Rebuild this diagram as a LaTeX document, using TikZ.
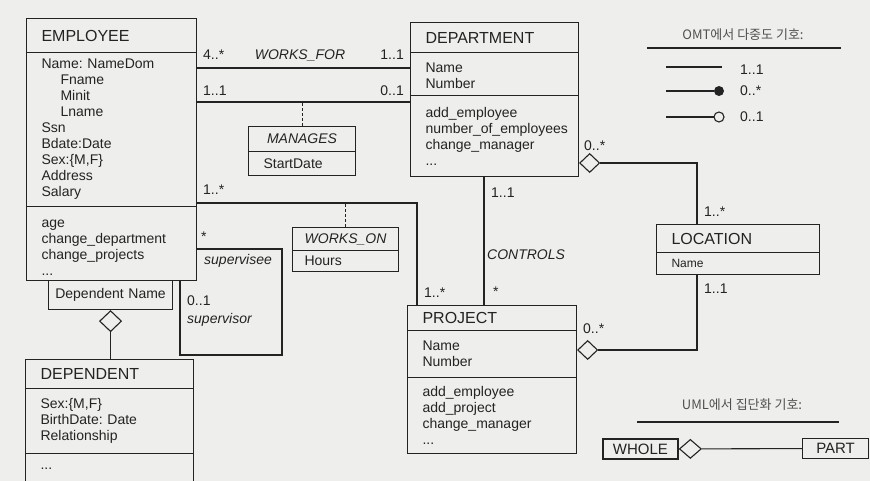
\documentclass[tikz,border=0pt]{standalone}
\usepackage{fontspec}
\setmainfont{Liberation Sans}
\newfontfamily\krfont{Noto Sans CJK KR}
\usetikzlibrary{shapes.geometric}
\definecolor{paper}{RGB}{238,238,236}
\definecolor{ink}{RGB}{35,35,35}
\definecolor{note}{RGB}{80,80,80}
\tikzset{
  cls/.style={draw=ink, line width=1.1pt, anchor=north west, inner xsep=15pt, inner ysep=0pt,
    align=left, text=ink, font=\fontsize{14}{16}\selectfont\frenchspacing},
  clshead/.style={cls, font=\fontsize{16}{18}\selectfont},
  linkhead/.style={cls, inner xsep=6pt, align=center, font=\fontsize{14}{16}\selectfont\itshape},
  mult/.style={inner sep=0pt, text=ink, font=\fontsize{14}{16}\selectfont},
  role/.style={mult, font=\fontsize{14}{16}\selectfont\itshape},
  link/.style={draw=ink, line width=1.1pt},
  linkdash/.style={draw=ink, line width=1.1pt, dash pattern=on 3pt off 2pt},
  agg/.style={diamond, draw=ink, line width=1.1pt, inner sep=0pt, minimum width=20pt, minimum height=19pt},
  krnote/.style={text=note, font=\krfont\fontsize{13}{15}\selectfont}
}
\begin{document}
\begin{tikzpicture}[x=1pt, y=-1pt]
  \useasboundingbox (0,0) rectangle (870,481);
  \fill[paper] (0,0) rectangle (870,481);
  \clip (0,0) rectangle (870,481);

  \node[clshead, text width=140pt, minimum height=34pt] (emp) at (26,18) {EMPLOYEE};
  \node[cls, text width=140pt, minimum height=154pt] (emp-attr) at (26,52) {Name: NameDom\\
    \hspace*{19pt}Fname\\ \hspace*{19pt}Minit\\ \hspace*{19pt}Lname\\
    Ssn\\ Bdate:Date\\ Sex:\{M,F\}\\ Address\\ Salary};
  \node[cls, text width=140pt, minimum height=74pt] (emp-ops) at (26,206) {\rule{0pt}{15pt}age\\ change\_department\\ change\_projects\\ ...};

  \node[clshead, text width=138pt, minimum height=30pt] (dep) at (410,22) {DEPARTMENT};
  \node[cls, text width=138pt, minimum height=43pt] (dep-attr) at (410,52) {\rule{0pt}{14pt}Name\\ Number};
  \node[cls, text width=138pt, minimum height=81pt] (dep-ops) at (410,95) {add\_employee\\ number\_of\_employees\\ change\_manager\\ ...};

  \node[clshead, text width=139pt, minimum height=25pt] (prj) at (407,305) {PROJECT};
  \node[cls, text width=139pt, minimum height=47pt] (prj-attr) at (407,330) {Name\\ Number};
  \node[cls, text width=139pt, minimum height=76pt] (prj-ops) at (407,377) {add\_employee\\ add\_project\\ change\_manager\\ ...};

  \node[clshead, text width=133pt, minimum height=28pt] (loc) at (656,224) {LOCATION};
  \node[cls, text width=133pt, minimum height=22pt, font=\fontsize{12}{14}\selectfont] (loc-attr) at (656,252) {Name};

  \node[clshead, text width=138pt, minimum height=29pt] (dpt) at (25,359) {DEPENDENT};
  \node[cls, text width=138pt, minimum height=65pt] (dpt-attr) at (25,388) {Sex:\{M,F\}\\ BirthDate: Date\\ Relationship};
  \node[cls, text width=138pt, minimum height=30pt] (dpt-ops) at (25,453) {...};

  \node[cls, inner xsep=0pt, align=center, text width=124pt, minimum height=29pt] (depname) at (48,280) {Dependent Name};
  \node[agg, anchor=north, minimum width=22pt, minimum height=21pt] (agg-dpt) at (depname.south) {};
  \draw[link] (agg-dpt.south) -- (agg-dpt.south |- dpt.north);

  \node[linkhead, text width=95pt, minimum height=25pt] (mgr) at (248,126) {MANAGES};
  \node[cls, text width=77pt, minimum height=24pt] (mgr-attr) at (248,151) {StartDate};
  \node[linkhead, text width=94pt, minimum height=23pt] (won) at (292,227) {WORKS\_ON};
  \node[cls, inner xsep=12pt, text width=82pt, minimum height=21pt] (won-attr) at (292,250) {Hours};

  \coordinate (wf) at (0,68);
  \coordinate (mg) at (0,102);
  \coordinate (wo) at (0,203);
  \coordinate (wo-turn) at (417,203);
  \coordinate (ctl) at (484,0);
  \coordinate (loc-in) at (697,0);
  \coordinate (sup-a) at (282,355);
  \coordinate (sup-b) at (180,355);

  \draw[link] (emp-attr.east |- wf) -- (dep-attr.west |- wf);
  \draw[link] (emp-attr.east |- mg) -- (dep-ops.west |- mg);
  \draw[linkdash] (mgr.north) -- (mgr.north |- mg);
  \draw[link] (emp-attr.east |- wo) -- (wo-turn) -- (wo-turn |- prj.north);
  \draw[linkdash] (won.north) -- (won.north |- wo);
  \draw[link] (emp-ops.east |- 0,249) -| (sup-a) -- (sup-b) -- (sup-b |- emp-ops.south);
  \draw[link] (dep-ops.south -| ctl) -- (prj.north -| ctl);

  \node[agg, anchor=west] (agg-dep) at (dep-ops.east |- 0,163) {};
  \node[agg, anchor=west] (agg-prj) at (prj-attr.east |- 0,350) {};
  \draw[link] (agg-dep.east) -| (loc.north -| loc-in);
  \draw[link] (agg-prj.east) -| (loc-attr.south -| loc-in);

  \node[mult, anchor=base west] (m-wf-emp) at (203,60) {4..*};
  \node[role, anchor=base] (r-wf) at (300,60) {WORKS\_FOR};
  \node[mult, anchor=base east] (m-wf-dep) at (404,60) {1..1};
  \node[mult, anchor=base west] (m-mg-emp) at (203,96) {1..1};
  \node[mult, anchor=base east] (m-mg-dep) at (404,96) {0..1};
  \node[mult, anchor=base west] (m-wo-emp) at (203,195) {1..*};
  \node[mult, anchor=base west] (m-wo-prj) at (424,297) {1..*};
  \node[mult, anchor=base west] (m-see) at (201,241) {*};
  \node[role, anchor=base west] (r-see) at (204,265) {supervisee};
  \node[mult, anchor=base west] (m-sor) at (187,305) {0..1};
  \node[role, anchor=base west] (r-sor) at (187,323) {supervisor};
  \node[mult, anchor=base west] (m-ctl-dep) at (491,198) {1..1};
  \node[role, anchor=base west] (r-ctl) at (487,259) {CONTROLS};
  \node[mult, anchor=base west] (m-ctl-prj) at (493,296) {*};
  \node[mult, anchor=base west] (m-loc-dep) at (584,151) {0..*};
  \node[mult, anchor=base west] (m-loc-a) at (704,217) {1..*};
  \node[mult, anchor=base west] (m-loc-b) at (704,293) {1..1};
  \node[mult, anchor=base west] (m-loc-prj) at (583,333) {0..*};

  \node[krnote] (omt) at (743,35) {OMT에서 다중도 기호:};
  \draw[link] (647,48) -- (841,48);
  \draw[link] (666,67) -- (722,67);
  \node[mult, anchor=base west] (omt-a) at (740,75) {1..1};
  \draw[link] (666,91) -- (714,91);
  \fill[ink] (719,91) circle (5pt);
  \node[mult, anchor=base west] (omt-b) at (740,96) {0..*};
  \draw[link] (666,117) -- (714,117);
  \draw[link] (719,117) circle (5pt);
  \node[mult, anchor=base west] (omt-c) at (740,122) {0..1};

  \node[krnote] (uml) at (742,405) {UML에서 집단화 기호:};
  \draw[link] (637,422) -- (839,422);
  \node[cls, line width=1.8pt, inner xsep=0pt, align=center, text width=75pt, minimum height=20pt,
    font=\fontsize{15}{16}\selectfont] (whole) at (602,438) {WHOLE};
  \node[agg, anchor=west, minimum width=22pt] (agg-whole) at (whole.east) {};
  \node[cls, inner xsep=0pt, align=center, text width=66pt, minimum height=20pt,
    font=\fontsize{15}{16}\selectfont] (part) at (802,438) {PART};
  \draw[link] (agg-whole.east) -- (part.west);
\end{tikzpicture}
\end{document}
